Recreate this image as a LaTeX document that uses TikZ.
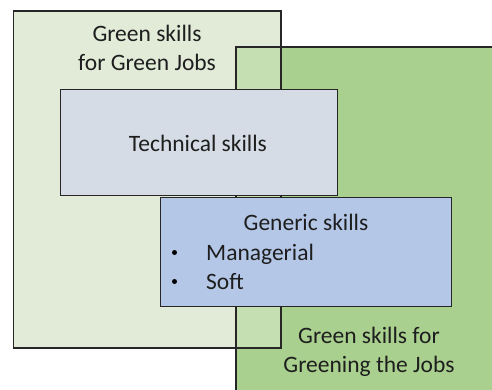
\documentclass[tikz,border=0pt]{standalone}
\usepackage{fontspec}
\setmainfont{Carlito}
\definecolor{ltgreen}{HTML}{E2EBD8}
\definecolor{midgreen}{HTML}{A9D08E}
\definecolor{ovgreen}{HTML}{C5DFB3}
\definecolor{techgray}{HTML}{D6DCE5}
\definecolor{genblue}{HTML}{B4C7E7}
\definecolor{edge}{HTML}{262626}
\definecolor{txt}{HTML}{1E1E1E}
\begin{document}
\begin{tikzpicture}[x=1pt,y=-1pt,
  boxline/.style={draw=edge, line width=1.2pt},
  lbl/.style={text=txt, font=\fontsize{23.5}{29}\selectfont, inner sep=0pt, align=center},
  bul/.style={fill=black, circle, inner sep=0pt, minimum size=5pt}]
\useasboundingbox (0,0) rectangle (492,389);
\clip (0,0) rectangle (492,389);
% fills
\fill[midgreen] (236,47) rectangle (500,400);
\fill[ltgreen] (13.5,11) rectangle (281,348);
\fill[ovgreen] (236,47) rectangle (281,348);
% borders of the two green sets
\draw[boxline] (236,400) -- (236,47) coordinate (gtl) -- (500,47);
\draw[boxline] (13.5,11) rectangle (281,348);
% technical and generic boxes
\node[boxline, fill=techgray, anchor=north west, minimum width=277pt, minimum height=106pt, inner sep=0pt] (tech) at (60,89) {};
\node[boxline, fill=genblue, anchor=north west, minimum width=291pt, minimum height=109.5pt, inner sep=0pt] (gen) at (160,196.5) {};
% labels
\node[lbl] (gjlabel) at (147,48) {Green skills\\for Green Jobs};
\node[lbl] (techlabel) at (198,143) {Technical skills};
\node[lbl] (genlabel) at (306,222) {Generic skills};
\node[bul] (b1) at (174.5,252.5) {};
\node[lbl, anchor=base west] (m1) at (206,260) {Managerial};
\node[bul] (b2) at (174.5,281.5) {};
\node[lbl, anchor=base west] (s1) at (206,289) {Soft};
\node[lbl] (gtlabel) at (369,352) {Green skills for\\Greening the Jobs};
\end{tikzpicture}
\end{document}
